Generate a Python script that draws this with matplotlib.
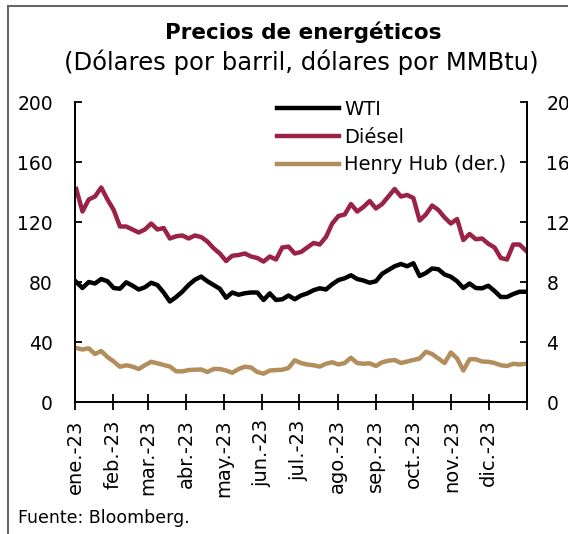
import numpy as np
import pandas as pd
import matplotlib
matplotlib.use("Agg")
import matplotlib.pyplot as plt
from matplotlib.patches import Rectangle

plt.rcParams['font.family'] = ['DejaVu Sans']

# sample dates (about every 5 days through 2023)
dates = pd.date_range('2023-01-02', '2023-12-31', periods=73)

# WTI, dolares por barril
wti = [80, 76, 80, 79, 82, 80.5, 76, 75.5, 79.8, 77.6,
       75, 76.5, 79.5, 78, 73, 67, 70, 73.6, 78, 81.5,
       83.6, 80.5, 78, 75.5, 69.5, 73, 71.5, 72.5, 73, 73,
       68, 72.4, 68, 68.5, 71, 68.5, 71, 72.4, 74.5, 75.8,
       75, 78.5, 81.3, 82.5, 84.5, 82, 81, 79.5, 80.5, 85.5,
       88, 90.5, 92, 90.5, 92.5, 84, 86, 89, 88.5, 85,
       83.5, 80.5, 76, 79, 76, 75.8, 77.5, 74, 70, 70,
       72, 73.5, 73.5]

# Diesel, dolares por barril
diesel = [142, 127, 135, 137, 143, 135, 128, 117, 117, 115,
          113, 115, 119, 115, 116, 109, 110.5, 111, 109, 111,
          110, 107, 102.5, 99, 94, 97.5, 98, 99, 97, 96,
          93.6, 97, 95, 103, 103.6, 99, 100, 103, 106, 105,
          110, 119, 124, 125, 132, 127, 130, 134, 129, 132,
          137, 142, 137, 138, 136, 121, 125, 131, 128, 123,
          119, 122, 108, 112, 108.5, 109, 105.5, 103, 96, 95,
          105, 105, 101]

# Henry Hub, dolares por MMBtu (eje derecho)
henry_hub = [3.6, 3.5, 3.58, 3.2, 3.4, 3.0, 2.7, 2.35, 2.45, 2.36,
             2.2, 2.45, 2.68, 2.58, 2.47, 2.36, 2.05, 2.04, 2.13, 2.15,
             2.17, 2.0, 2.2, 2.2, 2.1, 1.95, 2.2, 2.35, 2.3, 2.0,
             1.89, 2.1, 2.13, 2.15, 2.27, 2.78, 2.6, 2.5, 2.45, 2.36,
             2.55, 2.65, 2.5, 2.6, 2.95, 2.6, 2.55, 2.58, 2.4, 2.65,
             2.75, 2.8, 2.6, 2.7, 2.8, 2.9, 3.35, 3.2, 2.9, 2.6,
             3.3, 2.9, 2.1, 2.85, 2.85, 2.7, 2.68, 2.6, 2.45, 2.4,
             2.55, 2.5, 2.55]

month_labels = ['ene.-23', 'feb.-23', 'mar.-23', 'abr.-23', 'may.-23', 'jun.-23',
                'jul.-23', 'ago.-23', 'sep.-23', 'oct.-23', 'nov.-23', 'dic.-23', '']

c_wti = '#000000'
c_diesel = '#9B2247'
c_hh = '#B38E5D'

fig = plt.figure(figsize=(5.68, 5.34), dpi=100)
ax = fig.add_axes([75/568, 1-402/534, 452/568, 300/534])
ax2 = ax.twinx()

l1, = ax.plot(dates, wti, color=c_wti, lw=3.2, label='WTI')
l2, = ax.plot(dates, diesel, color=c_diesel, lw=3.2, label='Diésel')
l3, = ax2.plot(dates, henry_hub, color=c_hh, lw=3.2, label='Henry Hub (der.)')

ax.set_ylim(0, 200)
ax.set_yticks(np.arange(0, 201, 40))
ax2.set_ylim(0, 20)
ax2.set_yticks(np.arange(0, 21, 4))

month_ticks = pd.date_range('2023-01-01', '2024-01-01', freq='MS')
ax.set_xlim(month_ticks[0], month_ticks[-1])
ax.set_xticks(month_ticks)
ax.set_xticklabels(month_labels, rotation=90, fontsize=14)

for a in (ax, ax2):
    a.spines['top'].set_visible(False)
    for s in a.spines.values():
        s.set_linewidth(1.3)
ax.tick_params(axis='y', direction='in', length=5, width=1.3, labelsize=13.5, pad=16)
ax2.tick_params(axis='y', direction='in', length=5, width=1.3, labelsize=13.5, pad=14)
ax.tick_params(axis='x', direction='inout', length=11, width=1.3, pad=7)

ax2.legend(handles=[l1, l2, l3], loc='upper left', frameon=False, fontsize=14,
           handlelength=3.2, handletextpad=0.25, labelspacing=0.45,
           borderpad=0, borderaxespad=0,
           bbox_to_anchor=(277/568, 1-100/534), bbox_transform=fig.transFigure)

fig.text(303/568, 1-32/534, 'Precios de energéticos', ha='center', va='center',
         fontsize=15.5, fontweight='bold')
fig.text(301/568, 1-62/534, '(Dólares por barril, dólares por MMBtu)', ha='center',
         va='center', fontsize=17.5)
fig.text(18/568, 1-518/534, 'Fuente: Bloomberg.', ha='left', va='center', fontsize=12.5)

# marco gris del recuadro
fig.add_artist(Rectangle((8/568, -0.5), 2, 1.5 - 6/534, transform=fig.transFigure,
                         fill=False, edgecolor='#666666', lw=1.5))

fig.savefig('out.png', dpi=100)
